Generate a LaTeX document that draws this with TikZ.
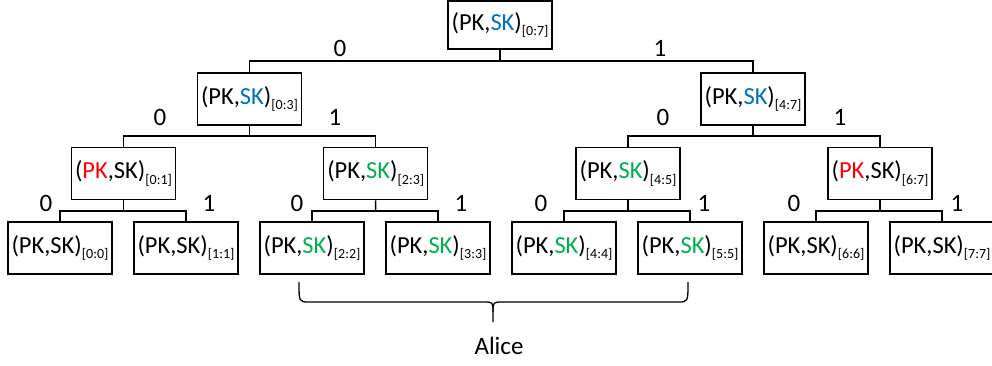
\documentclass[tikz,border=0pt]{standalone}
\usepackage{fontspec}
\setmainfont{Carlito}
\usetikzlibrary{calc}
\definecolor{keyblue}{RGB}{0,112,192}
\definecolor{keyred}{RGB}{255,0,0}
\definecolor{keygreen}{RGB}{0,176,80}
% key pair with an index range as subscript
\newcommand{\rng}[1]{\raisebox{-5.5pt}{\fontsize{14}{14}\selectfont[#1]}}
\newcommand{\pair}[3]{(\textcolor{#1}{PK},\textcolor{#2}{SK})\rng{#3}}

\begin{document}
\begin{tikzpicture}[x=1pt,y=-1pt,line width=1.5pt,
  keybox/.style={draw,minimum width=104pt,minimum height=52pt,inner sep=0pt,
    font=\fontsize{24.5}{26}\selectfont},
  bit/.style={font=\fontsize{25}{26}\selectfont,inner sep=0pt}]
\useasboundingbox (0,0) rectangle (992,366);

% root
\node[keybox,minimum height=48pt] (r) at (500,25) {\pair{black}{keyblue}{0:7}};
% level 1
\node[keybox] (a) at (249.5,99) {\pair{black}{keyblue}{0:3}};
\node[keybox] (b) at (753,99) {\pair{black}{keyblue}{4:7}};
% level 2
\node[keybox] (aa) at (123.5,173.5) {\pair{keyred}{black}{0:1}};
\node[keybox] (ab) at (375.7,173.5) {\pair{black}{keygreen}{2:3}};
\node[keybox] (ba) at (628,173.5) {\pair{black}{keygreen}{4:5}};
\node[keybox] (bb) at (880,173.5) {\pair{keyred}{black}{6:7}};
% leaves
\node[keybox] (l0) at (60,248) {\pair{black}{black}{0:0}};
\node[keybox] (l1) at (186,248) {\pair{black}{black}{1:1}};
\node[keybox] (l2) at (312,248) {\pair{black}{keygreen}{2:2}};
\node[keybox] (l3) at (438,248) {\pair{black}{keygreen}{3:3}};
\node[keybox] (l4) at (564,248) {\pair{black}{keygreen}{4:4}};
\node[keybox] (l5) at (690,248) {\pair{black}{keygreen}{5:5}};
\node[keybox] (l6) at (816,248) {\pair{black}{black}{6:6}};
\node[keybox] (l7) at (942,248) {\pair{black}{black}{7:7}};

% elbow connectors: stem from parent, bar across to both children
\foreach \p/\c/\d in {r/a/b, a/aa/ab, b/ba/bb, aa/l0/l1, ab/l2/l3, ba/l4/l5, bb/l6/l7}{
  \draw (\p.south) -- ($(\p.south)!.5!(\p.south|-\c.north)$) coordinate (bar-\p);
  \draw (\c.north) |- (bar-\p) -| (\d.north);
}

% branch bits
\node[bit] (r0) at (340,48) {0};
\node[bit] (r1) at (660,48) {1};
\node[bit] (a0) at (160,117) {0};
\node[bit] (a1) at (335,117) {1};
\node[bit] (b0) at (663,117) {0};
\node[bit] (b1) at (840,117) {1};
\node[bit] (aa0) at (46,203) {0};
\node[bit] (aa1) at (209,203) {1};
\node[bit] (ab0) at (297,203) {0};
\node[bit] (ab1) at (461,203) {1};
\node[bit] (ba0) at (541,203) {0};
\node[bit] (ba1) at (704,203) {1};
\node[bit] (bb0) at (794,203) {0};
\node[bit] (bb1) at (957,203) {1};

% brace under the leaves held by Alice
\draw[line width=1.3pt] (299,282) .. controls (299,302) .. (309,302) -- (483,302)
  .. controls (493,302) .. (493,312) -- (493,322);
\draw[line width=1.3pt] (688,282) .. controls (688,302) .. (678,302) -- (503,302)
  .. controls (493,302) .. (493,312);
\node[bit] (alice) at (499,346) {Alice};
\end{tikzpicture}
\end{document}
